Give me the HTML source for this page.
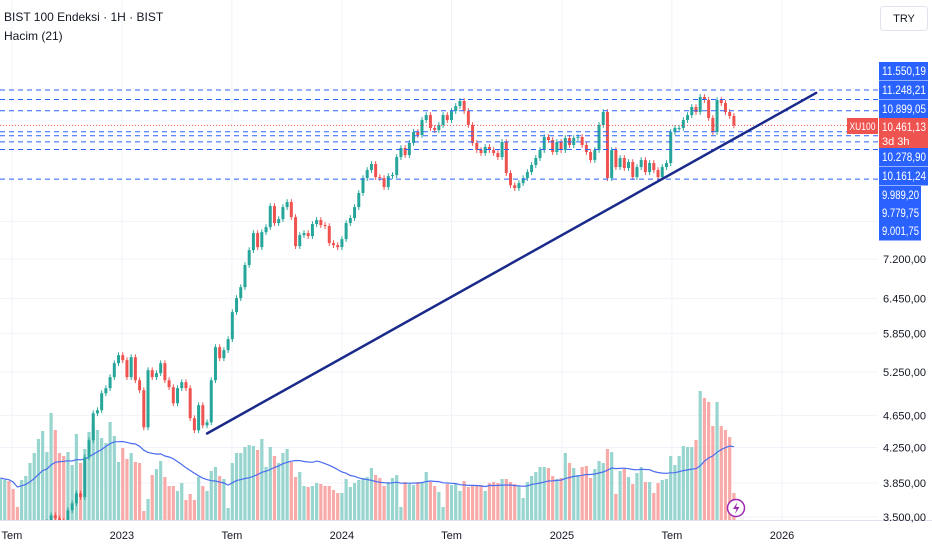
<!DOCTYPE html>
<html><head><meta charset="utf-8">
<style>
html,body{margin:0;padding:0;background:#fff;}
body{width:932px;height:550px;overflow:hidden;font-family:"Liberation Sans",sans-serif;}
svg{display:block}
</style></head>
<body>
<svg id="chart" width="932" height="550" xmlns="http://www.w3.org/2000/svg" font-family="Liberation Sans, sans-serif">
  <defs><clipPath id="plotClip"><rect x="0" y="0" width="878" height="520"/></clipPath></defs>
  <rect x="0" y="0" width="932" height="550" fill="#ffffff"/>
  <g id="grid"></g>
  <g id="vol" clip-path="url(#plotClip)"></g>
  <g id="ma" clip-path="url(#plotClip)"></g>
  <g id="candles" clip-path="url(#plotClip)"></g>
  <g id="hlines" clip-path="url(#plotClip)"></g>
  <g id="trend" clip-path="url(#plotClip)"></g>
  <line x1="0" y1="520.5" x2="932" y2="520.5" stroke="#e0e3eb"/>
  <g id="yaxis"></g>
  <g id="xaxis"></g>
  <g id="markers"></g>
  <text x="4" y="21" font-size="12" fill="#131722">BIST 100 Endeksi · 1H · BIST</text>
  <text x="4" y="40" font-size="12" fill="#131722">Hacim (21)</text>
  <rect x="880.5" y="6.5" width="47" height="24" rx="3" fill="#fff" stroke="#e0e3eb"/>
  <text x="904" y="22" font-size="11" fill="#131722" text-anchor="middle">TRY</text>
  <g>
    <circle cx="736" cy="508" r="8.5" fill="#fff" stroke="#9c27b0" stroke-width="1.5"/>
    <path d="M737.5 502 L733 509 L736.5 509 L735 514 L739.5 507 L736 507 Z" fill="#9c27b0"/>
  </g>
</svg>
<script>
const closes = [3300,3340,3310,3280,3240,3270,3300,3330,3360,3390,3420,3450,
3516,3487,3460,3440,3566,3636,3739,3700,4136,4337,4677,4717,4946,5017,5174,5380,5502,5426,
5174,5472,5130,4989,4497,5276,5174,5232,5380,5130,5031,4810,5017,5102,5017,4613,4460,4784,4522,4560,
5130,5627,5456,5580,5754,6206,6454,6655,7080,7381,7741,7443,7762,7871,8349,7961,8050,8325,8443,8095,
7464,7698,7741,7676,7939,8028,7917,7894,7528,7485,7443,7612,7961,8073,8325,8659,9028,9233,9391,9054,
9028,8804,9079,9105,9574,9820,9629,9960,10270,10184,10620,10768,10385,10327,10474,10768,10620,10890,11043,11200,
10890,10474,9960,9765,9684,9848,9765,9684,9574,9987,9155,8852,8779,8903,9028,9181,9365,9548,9765,10126,
10042,9711,9987,9765,10098,9903,10098,10126,9903,9711,9495,9765,10474,10860,9028,9765,9311,9548,9285,9443,
9054,9311,9495,9181,9417,9233,9054,9311,9417,10270,10385,10385,10620,10768,11012,10860,11328,11231,10680,10270,
11231,11137,10860,10740,10461];
const volumes = [42,40,39,31,13,40,44,57,67,81,89,68,107,90,67,64,68,55,86,57,71,88,97,90,82,77,98,84,58,72,
61,67,58,57,9,21,45,51,59,43,34,34,29,37,20,26,20,43,34,29,49,53,44,41,12,57,67,67,73,75,
74,70,81,53,73,64,57,67,71,58,43,48,34,33,34,37,36,34,34,30,27,27,41,33,37,40,42,43,
52,45,42,34,38,42,45,13,38,36,35,38,38,48,38,34,28,13,36,35,36,29,39,33,35,35,35,29,37,38,
37,41,41,38,36,34,22,38,44,48,53,53,52,44,41,42,67,57,52,45,53,54,42,51,59,57,71,68,26,49,
51,43,36,47,53,38,38,27,37,40,41,64,55,64,74,73,73,80,129,122,118,94,118,94,90,83,27];
const firstOpen = 3280;
const levelPrices = [11550.19,11248.21,10899.05,10278.90,10161.24,9989.20,9779.75,9001.75];
const levelLabels = ["11.550,19","11.248,21","10.899,05","10.278,90","10.161,24","9.989,20","9.779,75","9.001,75"];
const lastPrice = 10461.13;
const lastPriceLabel = "10.461,13";
const tickPrices = [7200,6450,5850,5250,4650,4250,3850,3500];
const tickLabels = ["7.200,00","6.450,00","5.850,00","5.250,00","4.650,00","4.250,00","3.850,00","3.500,00"];
const gridPrices = [8000,7200,6450,5850,5250,4650,4250,3850,3500];
const timeIndex = [2.7,28.8,54.9,81,107,133.2,159.3,185.4];
const timeLabels = ["Tem","2023","Tem","2024","Tem","2025","Tem","2026"];
const trendIndex = [49,193.5];
const trendPrice = [4420,11455];
const maPeriod = 21;

const NS="http://www.w3.org/2000/svg";
function X(i){return 0.5+4.215*i;}
function Y(p){return 90-357.6*Math.log(p/11550);}
function VY(v){return 520-v;}
function mk(tag,attrs,parent){const e=document.createElementNS(NS,tag);for(const k in attrs)e.setAttribute(k,attrs[k]);parent.appendChild(e);return e;}
const G=id=>document.getElementById(id);

gridPrices.forEach(p=>{
  const l=mk('line',{x1:0,x2:878,y1:Y(p),y2:Y(p),stroke:'#f0f3fa','stroke-width':1},G('grid'));
  
  
});
timeIndex.forEach(t=>{
  const l=mk('line',{x1:X(t),x2:X(t),y1:0,y2:520,stroke:'#f0f3fa','stroke-width':1},G('grid'));
  
  
});

closes.forEach((c,i)=>{
  const o=i===0?firstOpen:closes[i-1];
  const up=c>=o;
  const v=volumes[i];
  const r=mk('rect',{x:X(i)-1.6,y:VY(v),width:3.2,height:v,fill:up?'#99d5cf':'#f7aaa8'},G('vol'));
  
  
});
let pts=[];
for(let i=0;i<volumes.length;i++){
  const s=Math.max(0,i-maPeriod+1);let sum=0;for(let j=s;j<=i;j++)sum+=volumes[j];
  pts.push(X(i).toFixed(1)+','+VY(sum/(i-s+1)).toFixed(1));
}
const maLine=mk('polyline',{points:pts.join(' '),fill:'none',stroke:'#4a6cf0','stroke-width':1.2},G('ma'));



closes.forEach((c,i)=>{
  const o=i===0?firstOpen:closes[i-1];
  const up=c>=o;const col=up?'#26a69a':'#ef5350';
  const hi=Math.max(o,c)*1.008, lo=Math.min(o,c)*0.992;
  const g=mk('g',{},G('candles'));
  
  
  mk('line',{x1:X(i),x2:X(i),y1:Y(hi),y2:Y(lo),stroke:col,'stroke-width':1},g);
  const top=Math.min(Y(o),Y(c));const h=Math.max(1,Math.abs(Y(o)-Y(c)));
  mk('rect',{x:X(i)-1.5,y:top,width:3,height:h,fill:col},g);
});

levelPrices.forEach(p=>{
  const l=mk('line',{x1:0,x2:878,y1:Y(p),y2:Y(p),stroke:'#2962ff','stroke-width':1,'stroke-dasharray':'5 4'},G('hlines'));
  
  
});
const lp=mk('line',{x1:0,x2:878,y1:Y(lastPrice),y2:Y(lastPrice),stroke:'#ef5350','stroke-width':1,'stroke-dasharray':'1 2'},G('hlines'));



const tl=mk('line',{x1:X(trendIndex[0]),y1:Y(trendPrice[0]),x2:X(trendIndex[1]),y2:Y(trendPrice[1]),stroke:'#1a2a8a','stroke-width':2.5,'stroke-linecap':'round'},G('trend'));



tickPrices.forEach((p,i)=>{
  const t=mk('text',{x:883,y:Y(p)+4,'font-size':11,fill:'#131722',textLength:43,lengthAdjust:'spacingAndGlyphs'},G('yaxis'));
  t.textContent=tickLabels[i];
  
  
});
timeIndex.forEach((t,i)=>{
  const e=mk('text',{x:X(t),y:539,'font-size':11,fill:'#131722','text-anchor':'middle'},G('xaxis'));
  e.textContent=timeLabels[i];
  
  
});

const slotY=[71,90,109,157,176,195,213,231];
levelLabels.forEach((lab,i)=>{
  const long=lab.length>8;
  const w=long?49:42;
  const g=mk('g',{},G('markers'));
  
  
  mk('rect',{x:879,y:slotY[i]-9,width:w,height:18.5,fill:'#2962ff'},g);
  const t=mk('text',{x:882,y:slotY[i]+4,'font-size':11.5,fill:'#fff',textLength:long?44:37,lengthAdjust:'spacingAndGlyphs'},g);
  t.textContent=lab;
});
const rg=mk('g',{},G('markers'));


mk('rect',{x:879,y:118,width:49,height:30,fill:'#ef5350'},rg);
const t1=mk('text',{x:882,y:131,'font-size':11.5,fill:'#fff',textLength:44,lengthAdjust:'spacingAndGlyphs'},rg);t1.textContent=lastPriceLabel;
const t2=mk('text',{x:882,y:145,'font-size':11,fill:'#fff'},rg);t2.textContent='3d 3h';
const sg=mk('g',{},G('markers'));


mk('rect',{x:847,y:118,width:31,height:16,fill:'#ef5350'},sg);
const t3=mk('text',{x:849.5,y:130,'font-size':11,fill:'#fff',textLength:26,lengthAdjust:'spacingAndGlyphs'},sg);t3.textContent='XU100';
</script>
</body></html>
